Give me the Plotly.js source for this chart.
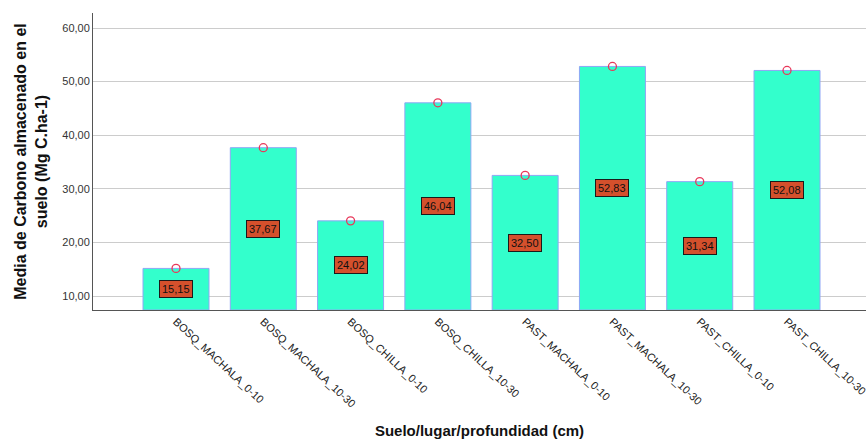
<!DOCTYPE html>
<html>
<head>
<meta charset="utf-8">
<script src="https://cdn.plot.ly/plotly-3.0.1.min.js"></script>
<style>html,body{margin:0;padding:0;background:#fff;}#chart{width:866px;height:439px;}</style>
</head>
<body>
<div id="chart"></div>
<script>
const categories = ["BOSQ_MACHALA_0-10","BOSQ_MACHALA_10-30","BOSQ_CHILLA_0-10","BOSQ_CHILLA_10-30","PAST_MACHALA_0-10","PAST_MACHALA_10-30","PAST_CHILLA_0-10","PAST_CHILLA_10-30"];
const means = [15.15, 37.67, 24.02, 46.04, 32.50, 52.83, 31.34, 52.08];
const meanLabels = ["15,15","37,67","24,02","46,04","32,50","52,83","31,34","52,08"];
const yTickVals = [10, 20, 30, 40, 50, 60];
const yTickText = ["10,00","20,00","30,00","40,00","50,00","60,00"];

const FONT = "Liberation Sans, Arial, sans-serif";
const yMin = 7.39, yMax = 62.8;

const bars = {
  type: "bar",
  x: categories,
  y: means.map(v => v - yMin),
  base: yMin,
  width: 0.756,
  marker: {color: "#33FFCC", line: {color: "#8FA6F5", width: 1}},
  hoverinfo: "skip"
};

const points = {
  type: "scatter",
  mode: "markers",
  x: categories,
  y: means,
  marker: {symbol: "circle-open", size: 8, color: "#E8385A", line: {width: 1.3, color: "#E8385A"}},
  hoverinfo: "skip"
};

const annotations = categories.map((c, i) => ({
  x: c, y: (yMin + means[i]) / 2, xref: "x", yref: "y",
  text: meanLabels[i], showarrow: false,
  bgcolor: "#D4502C", bordercolor: "#1a1a1a", borderwidth: 1, borderpad: 2,
  font: {family: FONT, size: 11, color: "#111"}
}));

const layout = {
  width: 866, height: 439,
  margin: {l: 93, r: 0, t: 13, b: 129},
  paper_bgcolor: "#fff", plot_bgcolor: "#fff",
  showlegend: false,
  font: {family: FONT},
  xaxis: {
    type: "category",
    range: [-0.951, 7.905],
    tickangle: 43,
    tickfont: {family: FONT, size: 11, color: "#222"},
    showline: true, linecolor: "#555", linewidth: 1,
    ticks: "", showgrid: false, zeroline: false,
    automargin: false,
    title: {text: "Suelo/lugar/profundidad (cm)", font: {family: FONT, size: 15, color: "#111", weight: "bold"}, standoff: 20}
  },
  yaxis: {
    range: [yMin, yMax],
    tickvals: yTickVals, ticktext: yTickText,
    tickfont: {family: FONT, size: 11, color: "#333"},
    showline: true, linecolor: "#555", linewidth: 1,
    showgrid: true, gridcolor: "#cccccc", gridwidth: 1,
    ticks: "", zeroline: false, automargin: false,
    title: {text: "Media de Carbono almacenado en el<br>suelo (Mg C.ha-1)", font: {family: FONT, size: 16, color: "#111", weight: "bold"}, standoff: 10}
  },
  annotations: annotations
};

Plotly.newPlot("chart", [bars, points], layout, {displayModeBar: false, staticPlot: true});
</script>
</body>
</html>
